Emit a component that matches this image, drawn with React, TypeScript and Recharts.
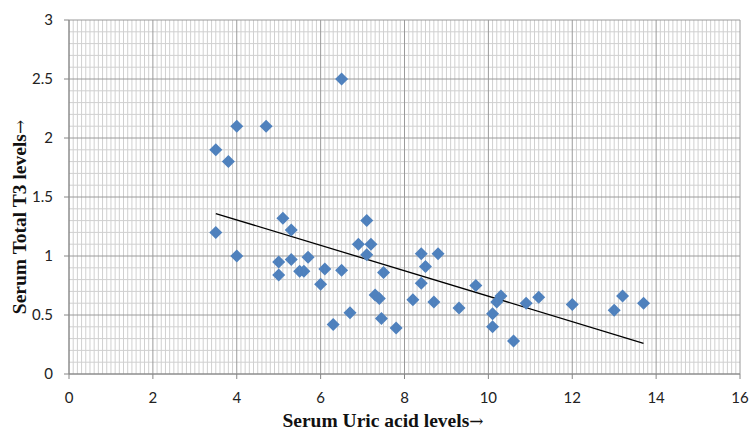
import React from 'react';
import {
  ScatterChart,
  Scatter,
  XAxis,
  YAxis,
  ReferenceLine,
} from 'recharts';

// serum uric acid (x) vs serum total T3 (y)
const uricAcid = [
  3.5, 3.8, 4.0, 4.7, 6.5, 3.5, 4.0, 5.0, 5.0, 5.1, 5.3, 5.3, 5.5, 5.6, 5.7, 6.0,
  6.1, 6.3, 6.5, 6.7, 6.9, 7.1, 7.1, 7.2, 7.3, 7.4, 7.5, 7.45, 7.8, 8.2, 8.4, 8.4,
  8.5, 8.7, 8.8, 9.3, 9.7, 10.1, 10.1, 10.2, 10.3, 10.6, 10.9, 11.2, 12.0, 13.0, 13.2, 13.7,
];
const totalT3 = [
  1.9, 1.8, 2.1, 2.1, 2.5, 1.2, 1.0, 0.95, 0.84, 1.32, 1.22, 0.97, 0.87, 0.87, 0.99, 0.76,
  0.89, 0.42, 0.88, 0.52, 1.1, 1.3, 1.01, 1.1, 0.67, 0.64, 0.86, 0.47, 0.39, 0.63, 1.02, 0.77,
  0.91, 0.61, 1.02, 0.56, 0.75, 0.51, 0.4, 0.61, 0.66, 0.28, 0.6, 0.65, 0.59, 0.54, 0.66, 0.6,
];

// linear trend line ends
const trendX = [3.5, 13.7];
const trendY = [1.36, 0.26];

const xTicks = [0, 2, 4, 6, 8, 10, 12, 14, 16];
const yTicks = [0, 0.5, 1, 1.5, 2, 2.5, 3];

const points = uricAcid.map((x, i) => ({ x, y: totalT3[i] }));

// minor grid every 0.1 on both axes (major positions skipped)
const minorX = Array.from({ length: 161 }, (_, i) => i / 10).filter((_, i) => i % 20 !== 0);
const minorY = Array.from({ length: 31 }, (_, i) => i / 10).filter((_, i) => i % 5 !== 0);

const BLUE = '#4f81bd';
const TICK_FONT = 'Lato, "Open Sans", sans-serif';
const LABEL_FONT = '"Liberation Serif", "Times New Roman", serif';

const Diamond = (props: any) => {
  const { cx, cy } = props;
  if (cx == null || cy == null) return null;
  const r = 6.5;
  return (
    <polygon
      points={`${cx},${cy - r} ${cx + r},${cy} ${cx},${cy + r} ${cx - r},${cy}`}
      fill={BLUE}
    />
  );
};

export default function App() {
  return (
    <div style={{ position: 'absolute', left: 0, top: 0, width: 750, height: 444, background: '#fff' }}>
      <ScatterChart width={750} height={444} margin={{ top: 20, right: 10, bottom: 0, left: 0 }}>
        {minorX.map((v) => (
          <ReferenceLine key={`mx${v}`} x={v} stroke="#d0d0d0" strokeWidth={1} />
        ))}
        {minorY.map((v) => (
          <ReferenceLine key={`my${v}`} y={v} stroke="#d0d0d0" strokeWidth={1} />
        ))}
        {xTicks.map((v) => (
          <ReferenceLine key={`Mx${v}`} x={v} stroke="#9a9a9a" strokeWidth={1} />
        ))}
        {yTicks.map((v) => (
          <ReferenceLine key={`My${v}`} y={v} stroke="#9a9a9a" strokeWidth={1} />
        ))}
        <XAxis
          type="number"
          dataKey="x"
          domain={[0, 16]}
          ticks={xTicks}
          height={70}
          tickSize={5}
          tickMargin={13}
          stroke="#868686"
          tick={{ fill: '#222', fontSize: 15, fontFamily: TICK_FONT }}
          label={{
            content: () => (
              <text
                x={383}
                y={427}
                textAnchor="middle"
                fontFamily={LABEL_FONT}
                fontWeight="bold"
                fontSize={19.5}
                fill="#111"
              >
                Serum Uric acid levels
                <tspan fontFamily='"DejaVu Serif", serif' fontWeight="normal" fontSize={17}>→</tspan>
              </text>
            ),
          }}
        />
        <YAxis
          type="number"
          dataKey="y"
          domain={[0, 3]}
          ticks={yTicks}
          width={69}
          tickSize={5}
          tickMargin={11}
          stroke="#868686"
          tick={{ fill: '#222', fontSize: 15, fontFamily: TICK_FONT }}
          label={{
            content: () => (
              <text
                x={0}
                y={0}
                transform="translate(26,217) rotate(-90)"
                textAnchor="middle"
                fontFamily={LABEL_FONT}
                fontWeight="bold"
                fontSize={19.5}
                fill="#111"
              >
                Serum Total T3 levels
                <tspan fontFamily='"DejaVu Serif", serif' fontWeight="normal" fontSize={17}>→</tspan>
              </text>
            ),
          }}
        />
        <Scatter data={points} shape={<Diamond />} isAnimationActive={false} />
        <ReferenceLine
          segment={[
            { x: trendX[0], y: trendY[0] },
            { x: trendX[1], y: trendY[1] },
          ]}
          stroke="#000"
          strokeWidth={1.3}
        />
      </ScatterChart>
    </div>
  );
}
